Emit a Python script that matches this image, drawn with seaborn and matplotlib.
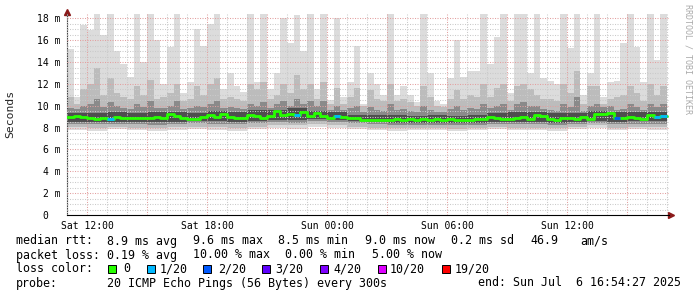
import numpy as np
import pandas as pd
import matplotlib
matplotlib.use("Agg")
import matplotlib.pyplot as plt
import seaborn as sns
from matplotlib.patches import Rectangle
from matplotlib.ticker import FixedLocator, MultipleLocator

# ---------------- data (milliseconds, 20-minute bins from Sat 11:00) ----------------
median_rtt = [8.98, 9.10, 8.98, 8.92, 8.83, 8.92, 8.83, 8.98, 8.86, 8.86, 8.89, 8.92, 8.92, 8.98, 8.92, 9.29, 9.04, 8.92,
              8.83, 8.83, 8.98, 9.20, 8.98, 9.23, 8.98, 8.92, 8.92, 9.20, 9.04, 8.92, 9.04, 9.50, 9.13, 9.29, 9.20, 9.44,
              9.04, 9.35, 9.04, 8.90, 9.04, 8.98, 8.92, 8.86, 8.74, 8.68, 8.68, 8.74, 8.74, 8.80, 8.68, 8.80, 8.68, 8.80,
              8.74, 8.80, 8.74, 8.83, 8.68, 8.74, 8.74, 8.80, 8.83, 8.98, 8.92, 8.83, 8.83, 8.92, 8.98, 8.83, 9.13, 9.04,
              8.80, 8.74, 8.92, 8.92, 8.83, 8.98, 8.83, 9.29, 9.23, 9.35, 8.92, 8.92, 8.98, 8.92, 8.83, 9.13, 8.98, 9.04]
loss_count = [0, 0, 0, 0, 0, 0, 1, 0, 0, 0, 0, 0, 0, 0, 0, 0, 0, 0,
              0, 0, 0, 0, 0, 0, 0, 0, 0, 0, 0, 0, 0, 0, 0, 0, 1, 0,
              0, 0, 0, 0, 1, 0, 0, 0, 0, 0, 0, 0, 0, 0, 0, 0, 0, 0,
              0, 0, 0, 0, 0, 0, 0, 0, 0, 0, 0, 0, 0, 0, 0, 0, 0, 0,
              0, 0, 0, 0, 0, 0, 0, 0, 0, 0, 2, 0, 0, 0, 0, 0, 1, 1]
ping_max = [15.2, 10.8, 17.4, 16.9, 18.5, 16.5, 18.5, 15.0, 13.8, 12.6, 18.5, 14.0, 18.5, 16.0, 12.0, 15.4, 18.5, 11.2,
            12.2, 17.0, 15.5, 17.5, 18.5, 11.5, 13.0, 11.8, 11.3, 18.5, 12.2, 18.5, 11.5, 13.0, 18.0, 15.7, 18.3, 15.0,
            18.5, 11.5, 18.5, 10.5, 18.0, 10.8, 12.2, 15.5, 10.2, 13.0, 12.0, 11.0, 18.5, 11.0, 11.8, 11.0, 10.3, 18.5,
            13.0, 10.4, 10.2, 12.5, 16.0, 12.6, 13.2, 13.2, 18.5, 13.8, 16.3, 18.5, 11.2, 18.5, 18.5, 13.0, 18.5, 12.5,
            12.3, 12.0, 18.5, 15.3, 18.5, 11.0, 13.0, 18.5, 10.8, 12.2, 12.3, 15.7, 18.5, 15.4, 12.2, 18.5, 14.2, 18.5]
ping_up2 = [10.8, 10.2, 11.5, 12.0, 13.5, 11.0, 12.5, 11.2, 10.8, 10.6, 11.8, 11.0, 12.4, 10.6, 10.8, 11.2, 12.0, 10.4,
            10.6, 11.8, 11.0, 12.0, 12.5, 10.6, 10.8, 10.6, 10.4, 12.0, 11.5, 12.2, 10.6, 11.0, 12.0, 11.2, 12.8, 11.5,
            12.0, 10.6, 12.2, 10.2, 11.6, 10.2, 10.8, 11.6, 10.0, 11.4, 10.6, 10.4, 12.0, 10.4, 10.6, 10.3, 10.0, 11.8,
            10.8, 10.0, 9.9, 10.6, 11.4, 10.6, 11.0, 10.8, 12.0, 10.8, 11.6, 12.0, 10.4, 11.8, 12.0, 11.5, 11.0, 10.6,
            10.6, 10.4, 12.0, 11.2, 13.2, 10.2, 11.8, 11.8, 10.2, 10.6, 10.8, 11.0, 11.8, 11.2, 10.4, 12.0, 11.0, 11.8]
ping_up3 = [9.8, 9.7, 10.0, 10.2, 10.6, 9.9, 10.3, 10.0, 9.8, 9.7, 10.2, 9.9, 10.4, 9.8, 9.8, 10.0, 10.4, 9.7,
            9.8, 10.0, 9.9, 10.2, 10.4, 9.8, 9.9, 9.8, 9.7, 10.2, 10.0, 10.3, 9.8, 10.2, 10.4, 10.0, 10.6, 10.2,
            10.4, 10.0, 10.4, 9.6, 10.0, 9.6, 9.8, 10.0, 9.4, 9.9, 9.6, 9.5, 10.2, 9.6, 9.7, 9.5, 9.4, 10.0,
            9.6, 9.4, 9.4, 9.7, 10.0, 9.6, 9.8, 9.7, 10.2, 9.8, 10.0, 10.2, 9.6, 10.2, 10.3, 10.0, 10.0, 9.7,
            9.6, 9.5, 10.2, 9.9, 10.8, 9.5, 10.0, 10.2, 9.9, 10.0, 9.6, 9.7, 10.2, 9.9, 9.6, 10.2, 9.9, 10.2]
# hourly (30 values)
ping_up4 = [9.3, 9.3, 9.4, 9.3, 9.4, 9.4, 9.3, 9.5, 9.4, 9.6, 9.6, 9.8, 9.5, 9.4, 9.2, 9.2, 9.2, 9.1, 9.2, 9.1,
            9.2, 9.3, 9.4, 9.4, 9.3, 9.3, 9.5, 9.4, 9.4, 9.4]
ping_lo4 = [8.5, 8.5, 8.5, 8.5, 8.5, 8.5, 8.6, 8.6, 8.5, 8.6, 8.7, 8.7, 8.8, 8.7, 8.6, 8.5, 8.4, 8.4, 8.4, 8.4,
            8.4, 8.5, 8.5, 8.5, 8.4, 8.5, 8.6, 8.5, 8.6, 8.6]
ping_lo3 = [8.3, 8.3, 8.3, 8.3, 8.2, 8.3, 8.4, 8.3, 8.3, 8.4, 8.5, 8.4, 8.6, 8.5, 8.4, 8.3, 8.2, 8.2, 8.2, 8.2,
            8.2, 8.3, 8.3, 8.3, 8.2, 8.3, 8.4, 8.3, 8.3, 8.3]
ping_lo2 = [8.1, 8.0, 8.1, 8.0, 8.0, 8.1, 8.1, 8.1, 8.0, 8.1, 8.2, 8.2, 8.3, 8.2, 8.1, 8.0, 8.0, 8.0, 8.0, 7.9,
            8.0, 8.1, 8.0, 8.0, 8.0, 8.1, 8.2, 8.0, 8.1, 8.1]
ping_min = [7.8, 7.7, 7.9, 7.8, 7.7, 7.8, 7.9, 7.8, 7.7, 7.9, 8.0, 7.9, 8.1, 8.0, 7.9, 7.8, 7.7, 7.8, 7.8, 7.7,
            7.8, 7.9, 7.8, 7.8, 7.7, 7.9, 8.0, 7.8, 7.9, 7.8]

x_tick_hours = [12, 18, 24, 30, 36]
x_tick_labels = ["Sat 12:00", "Sat 18:00", "Sun 00:00", "Sun 06:00", "Sun 12:00"]
y_tick_values = [0, 2, 4, 6, 8, 10, 12, 14, 16, 18]
y_tick_labels = ["0  ", "2 m", "4 m", "6 m", "8 m", "10 m", "12 m", "14 m", "16 m", "18 m"]

loss_labels = ["0", "1/20", "2/20", "3/20", "4/20", "10/20", "19/20"]
loss_colors = ["#26ff00", "#00b8ff", "#0059ff", "#5e00ff", "#7e00ff", "#dd00ff", "#ff0000"]
loss_map = {0: "#26ff00", 1: "#00b8ff", 2: "#0059ff"}

# ---------------- figure ----------------
sns.set_style("white")
plt.rcParams["font.family"] = ["DejaVu Sans Mono", "DejaVu Sans"]

W, H = 697, 297
fig = plt.figure(figsize=(W / 100, H / 100), dpi=100)
fig.patch.set_facecolor("white")
ax = fig.add_axes([67 / W, (H - 215) / H, 602 / W, 201 / H])

n = len(median_rtt)
edges = 11.0 + np.arange(n + 1) / 3.0


def ext(a):
    a = np.asarray(a, dtype=float)
    return np.append(a, a[-1])


def hourly(a):
    return ext(np.repeat(np.asarray(a, dtype=float), 3))


layers = [
    (hourly(ping_min), ext(ping_max), "#dcdcdc"),
    (hourly(ping_lo2), ext(ping_up2), "#bcbcbc"),
    (hourly(ping_lo3), ext(ping_up3), "#8a8a8a"),
    (hourly(ping_lo4), hourly(ping_up4), "#4e4e4e"),
]
for lo, hi, col in layers:
    ax.fill_between(edges, lo, hi, step="post", color=col, lw=0, zorder=1)

df = pd.DataFrame({"t": edges, "rtt": ext(median_rtt)})
sns.lineplot(data=df, x="t", y="rtt", drawstyle="steps-post", color="#26ff00",
             lw=2.0, estimator=None, ax=ax, zorder=4)
for i, lc in enumerate(loss_count):
    if lc > 0:
        ax.plot([edges[i], edges[i + 1]], [median_rtt[i], median_rtt[i]],
                color=loss_map[lc], lw=2.0, solid_capstyle="butt", zorder=5)

ax.set_xlim(11.0, 41.1)
ax.set_ylim(0, 18.4)
ax.set_xlabel("")
ax.set_ylabel("")

major_x = list(range(12, 40, 3))
ax.xaxis.set_major_locator(FixedLocator(major_x))
ax.set_xticklabels([x_tick_labels[x_tick_hours.index(h)] if h in x_tick_hours else "" for h in major_x])
ax.xaxis.set_minor_locator(MultipleLocator(1))
ax.set_yticks(y_tick_values)
ax.set_yticklabels(y_tick_labels)
ax.yaxis.set_minor_locator(MultipleLocator(0.5))

ax.set_axisbelow(False)
ax.grid(which="major", color="#e3a0a0", lw=0.75, ls=(0, (1, 1.4)), zorder=2.5)
ax.grid(which="minor", color="#cacaca", lw=0.75, ls=(0, (1, 1.4)), zorder=2.5)
ax.tick_params(which="both", length=0, labelsize=7, colors="black")
ax.tick_params(axis="y", pad=4.5)
ax.tick_params(axis="x", pad=4)

for s in ["top", "right"]:
    ax.spines[s].set_visible(False)
ax.spines["left"].set_color("#444444")
ax.spines["left"].set_linewidth(0.8)
ax.spines["bottom"].set_color("black")
ax.spines["bottom"].set_linewidth(0.8)

ax.plot([0], [1.012], marker="^", color="#8b1a1a", markersize=4, transform=ax.transAxes, clip_on=False)
ax.plot([1.004], [0], marker=">", color="#8b1a1a", markersize=4, transform=ax.transAxes, clip_on=False)

fig.text(10 / W, 1 - 114 / H, "Seconds", rotation=90, ha="center", va="center", fontsize=8.2)
fig.text(688 / W, 1 - 59 / H, "RRDTOOL / TOBI OETIKER", rotation=270, ha="center", va="center",
         fontsize=6, color="#aaaaaa")

fs = 8.4


def txt(x, y, s):
    fig.text(x / W, 1 - y / H, s, ha="left", va="center", fontsize=fs, color="black")


y1, y2, y3, y4 = 241, 255, 269, 283
txt(16, y1, "median rtt:")
for x, s in [(107, "8.9 ms avg"), (193, "9.6 ms max"), (278, "8.5 ms min"), (365, "9.0 ms now"),
             (451, "0.2 ms sd"), (530, "46.9"), (580, "am/s")]:
    txt(x, y1, s)
txt(16, y2, "packet loss:")
for x, s in [(107, "0.19 % avg"), (193, "10.00 % max"), (285, "0.00 % min"), (372, "5.00 % now")]:
    txt(x, y2, s)
txt(16, y3, "loss color:")
box_x = [108, 147, 203, 262, 320, 378, 442]
lab_x = [123, 160, 218, 275, 333, 390, 455]
for bx, lx, lab, col in zip(box_x, lab_x, loss_labels, loss_colors):
    fig.add_artist(Rectangle((bx / W, (H - 272.5) / H), 7.5 / W, 7.5 / H, transform=fig.transFigure,
                             facecolor=col, edgecolor="black", lw=0.7))
    txt(lx, y3, lab)
txt(16, y4, "probe:")
txt(107, y4, "20 ICMP Echo Pings (56 Bytes) every 300s")
txt(478, y4, "end: Sun Jul  6 16:54:27 2025")

fig.savefig("out.png", dpi=100, facecolor="white")
